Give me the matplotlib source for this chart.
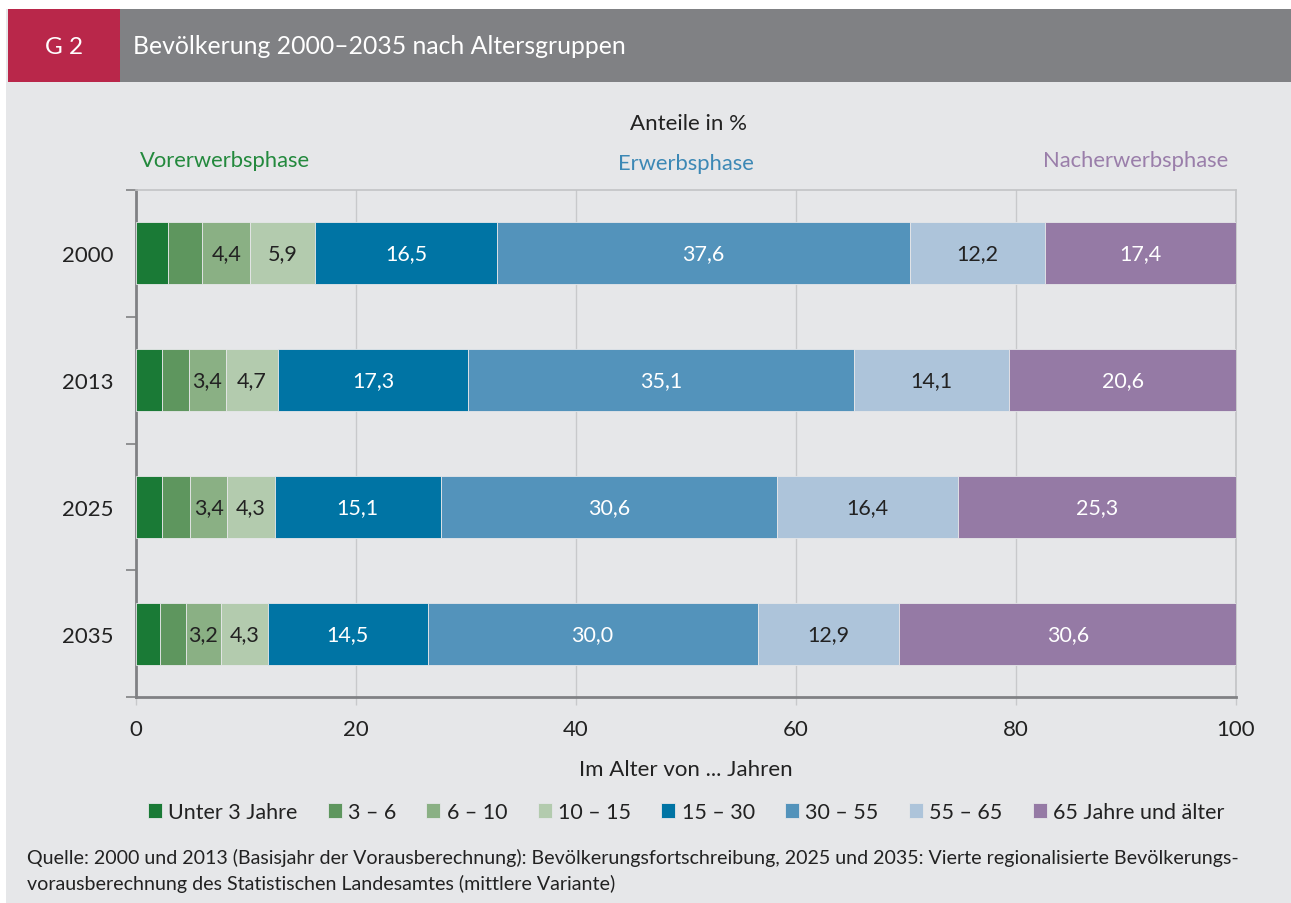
import matplotlib
matplotlib.use("Agg")
import matplotlib.pyplot as plt
from matplotlib.patches import Rectangle
import numpy as np

plt.rcParams['font.family'] = ['Lato', 'DejaVu Sans']

years = ["2000", "2013", "2025", "2035"]
groups = ["Unter 3 Jahre", "3 – 6", "6 – 10", "10 – 15", "15 – 30", "30 – 55", "55 – 65", "65 Jahre und älter"]
unter3 = [2.9, 2.4, 2.4, 2.2]
g3_6 = [3.1, 2.4, 2.5, 2.3]
g6_10 = [4.4, 3.4, 3.4, 3.2]
g10_15 = [5.9, 4.7, 4.3, 4.3]
g15_30 = [16.5, 17.3, 15.1, 14.5]
g30_55 = [37.6, 35.1, 30.6, 30.0]
g55_65 = [12.2, 14.1, 16.4, 12.9]
g65plus = [17.4, 20.6, 25.3, 30.6]
series = [unter3, g3_6, g6_10, g10_15, g15_30, g30_55, g55_65, g65plus]
show_label = [False, False, True, True, True, True, True, True]
colors = ["#1a7a36", "#5e965e", "#8ab084", "#b3cbae", "#0074a4", "#5393bb", "#adc4da", "#957aa5"]
text_colors = ["white", "white", "#222222", "#222222", "white", "white", "#222222", "white"]
xticks = [0, 20, 40, 60, 80, 100]

W, H = 1291, 904
fig = plt.figure(figsize=(W / 100, H / 100), dpi=100, facecolor="white")

def fx(px):
    return px / W

def fy(py):
    return 1 - py / H

# background panel
fig.patches.append(Rectangle((fx(6), 0), 1 - fx(6), fy(10), transform=fig.transFigure,
                             facecolor="#e6e7e9", edgecolor="none", zorder=-10))
# title bar
fig.patches.append(Rectangle((fx(120), fy(83)), 1 - fx(120), fy(10) - fy(83), transform=fig.transFigure,
                             facecolor="#808184", edgecolor="none", zorder=-5))
fig.patches.append(Rectangle((fx(8), fy(83)), fx(120) - fx(8), fy(10) - fy(83), transform=fig.transFigure,
                             facecolor="#b9274a", edgecolor="none", zorder=-5))
fig.text(fx(64), fy(47), "G 2", color="white", fontsize=17.5, ha="center", va="center")
fig.text(fx(133), fy(47), "Bevölkerung 2000–2035 nach Altersgruppen", color="white", fontsize=17.8,
         ha="left", va="center")

ax = fig.add_axes([fx(136), fy(698), fx(1236) - fx(136), fy(191) - fy(698)])
ax.set_facecolor("#e6e7e9")

y = np.arange(len(years))
left = np.zeros(len(years))
for vals, col, tc, lab, name in zip(series, colors, text_colors, show_label, groups):
    vals = np.array(vals)
    ax.barh(y, vals, left=left, height=0.49, color=col, edgecolor="#e6e7e9", linewidth=0.6,
            label=name, zorder=3)
    if lab:
        for yi, (l, v) in enumerate(zip(left, vals)):
            ax.text(l + v / 2, yi, f"{v:.1f}".replace(".", ","), ha="center", va="center",
                    color=tc, fontsize=15.5, zorder=4)
    left = left + vals

ax.set_xlim(0, 100)
ax.set_ylim(3.5, -0.5)
ax.set_xticks(xticks)
ax.set_xticklabels([str(t) for t in xticks], fontsize=16, color="#222222")
ax.set_yticks(y)
ax.set_yticklabels(years, fontsize=16, color="#222222")
ax.tick_params(axis="y", which="major", length=0, pad=16.5)
ax.set_yticks([-0.5, 0.5, 1.5, 2.5, 3.5], minor=True)
ax.tick_params(axis="y", which="minor", length=7, width=1.2, color="#808184")
ax.tick_params(axis="x", length=6, width=1, color="#c8c9cb", pad=10)
ax.xaxis.grid(True, color="#c8c9cb", linewidth=1, zorder=0)
ax.set_axisbelow(True)
for s in ["top", "right"]:
    ax.spines[s].set_color("#c3c4c6")
    ax.spines[s].set_linewidth(1.2)
for s in ["left", "bottom"]:
    ax.spines[s].set_color("#808184")
    ax.spines[s].set_linewidth(2)

ax.set_xlabel("Im Alter von ... Jahren", fontsize=16, color="#222222", labelpad=14)

fig.text(fx(688), fy(124), "Anteile in %", fontsize=16, color="#222222", ha="center", va="center")
fig.text(fx(140), fy(161), "Vorerwerbsphase", fontsize=15.8, color="#23893d", ha="left", va="center")
fig.text(fx(686), fy(164), "Erwerbsphase", fontsize=15.8, color="#3c88b5", ha="center", va="center")
fig.text(fx(1228), fy(161), "Nacherwerbsphase", fontsize=15.8, color="#9a7eaa", ha="right", va="center")

handles, labels = ax.get_legend_handles_labels()
leg = fig.legend(handles, labels, loc="center", bbox_to_anchor=(fx(686), fy(813)), ncol=8,
                 frameon=False, fontsize=15.5, handlelength=0.65, handleheight=0.65,
                 handletextpad=0.3, columnspacing=1.4, labelcolor="#222222")

fig.text(fx(27), fy(858), "Quelle: 2000 und 2013 (Basisjahr der Vorausberechnung): Bevölkerungsfortschreibung, 2025 und 2035: Vierte regionalisierte Bevölkerungs-",
         fontsize=14.1, color="#222222", ha="left", va="center")
fig.text(fx(27), fy(884), "vorausberechnung des Statistischen Landesamtes (mittlere Variante)",
         fontsize=14.1, color="#222222", ha="left", va="center")

fig.savefig("out.png", dpi=100, facecolor="white")
